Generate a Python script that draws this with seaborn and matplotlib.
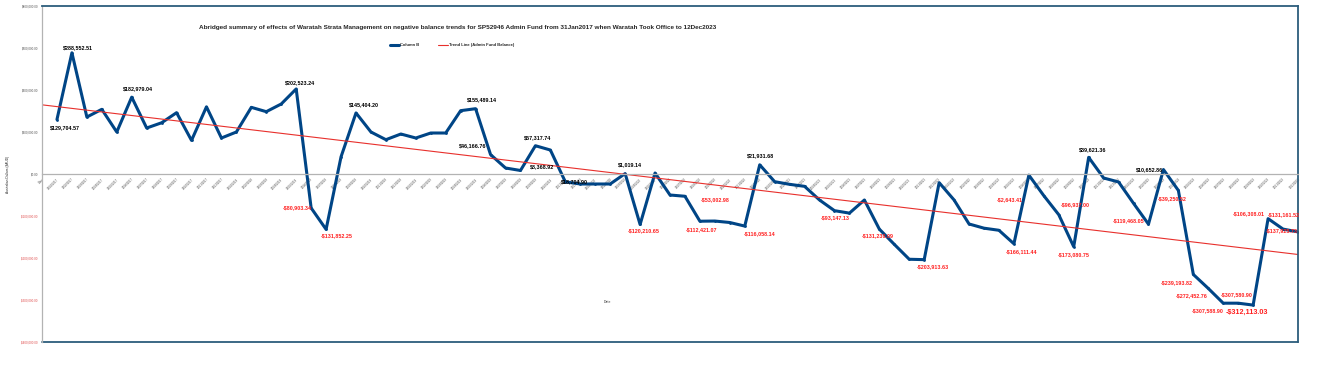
import matplotlib
matplotlib.use("Agg")
import matplotlib.pyplot as plt
import numpy as np
import pandas as pd
import seaborn as sns

# month-end balances of the admin fund, Jan 2017 .. Dec 2023
balance = [
    129704.57, 288552.51, 135700, 154000, 100000, 182979.04, 109500, 122000, 146000, 80000,
    160000, 85700, 100000, 158700, 148400, 166700, 202523.24, -80903.34, -131852.25, 41000,
    145404.20, 100000, 81700, 95200, 85700, 97600, 97600, 150800, 155489.14, 46166.76,
    14300, 8368.92, 67317.74, 57100, -18704.90, -23800, -23800, -23800, 1019.14, -120210.65,
    2400, -50000, -53002.98, -112421.07, -112000, -115500, -124000, 21931.68, -18300, -24600,
    -29400, -61900, -87300, -93147.13, -61900, -131230.09, -167500, -203000, -203913.63, -20600,
    -61900, -119000, -129000, -134000, -166111.44, -2643.41, -51600, -96937.00, -173080.75, 39621.36,
    -9500, -19000, -69800, -119468.05, 10652.86, -39250.52, -239193.82, -272452.76, -307588.90, -307580.90,
    -312113.03, -106308.01, -131161.52, -137925.73,
]

# category labels (first category is the header cell "Date")
dates = ["Date",
    "31/01/2017", "28/02/2017", "31/03/2017", "30/04/2017", "31/05/2017", "30/06/2017",
    "31/07/2017", "31/08/2017", "30/09/2017", "31/10/2017", "30/11/2017", "31/12/2017",
    "31/01/2018", "28/02/2018", "31/03/2018", "30/04/2018", "31/05/2018", "30/06/2018",
    "31/07/2018", "31/08/2018", "30/09/2018", "31/10/2018", "30/11/2018", "31/12/2018",
    "31/01/2019", "28/02/2019", "31/03/2019", "30/04/2019", "31/05/2019", "30/06/2019",
    "31/07/2019", "31/08/2019", "30/09/2019", "31/10/2019", "30/11/2019", "31/12/2019",
    "31/01/2020", "29/02/2020", "31/03/2020", "30/04/2020", "31/05/2020", "30/06/2020",
    "31/07/2020", "31/08/2020", "30/09/2020", "31/10/2020", "30/11/2020", "31/12/2020",
    "31/01/2021", "28/02/2021", "31/03/2021", "30/04/2021", "31/05/2021", "30/06/2021",
    "31/07/2021", "31/08/2021", "30/09/2021", "31/10/2021", "30/11/2021", "31/12/2021",
    "31/01/2022", "28/02/2022", "31/03/2022", "30/04/2022", "31/05/2022", "30/06/2022",
    "31/07/2022", "31/08/2022", "30/09/2022", "31/10/2022", "30/11/2022", "31/12/2022",
    "31/01/2023", "28/02/2023", "31/03/2023", "30/04/2023", "31/05/2023", "30/06/2023",
    "31/07/2023", "31/08/2023", "30/09/2023", "31/10/2023", "30/11/2023", "12/12/2023",
]

y_ticks = [-400000, -300000, -200000, -100000, 0, 100000, 200000, 300000, 400000]
y_tick_labels = ["-$400,000.00", "-$300,000.00", "-$200,000.00", "-$100,000.00", "$0.00",
                 "$100,000.00", "$200,000.00", "$300,000.00", "$400,000.00"]

# data labels: point number (1-based) and text shown
label_pt = [1, 2, 6, 17, 18, 19, 21, 29, 30, 32, 33, 35, 39, 40, 43, 44, 47, 48, 54, 56,
            59, 65, 66, 68, 69, 70, 74, 75, 76, 77, 78, 79, 80, 81, 82, 83, 84]
label_txt = ["$129,704.57", "$288,552.51", "$182,979.04", "$202,523.24", "-$80,903.34",
             "-$131,852.25", "$145,404.20", "$155,489.14", "$46,166.76", "$8,368.92",
             "$67,317.74", "$18,704.90", "$1,019.14", "-$120,210.65", "-$53,002.98",
             "-$112,421.07", "-$116,058.14", "$21,931.68", "-$93,147.13", "-$131,230.09",
             "-$203,913.63", "-$166,111.44", "-$2,643.41", "-$96,937.00", "-$173,080.75",
             "$39,621.36", "-$119,468.05", "$10,652.86", "-$39,250.52", "-$239,193.82",
             "-$272,452.76", "-$307,588.90", "-$307,580.90", "-$312,113.03", "-$106,308.01",
             "-$131,161.52", "-$137,925.73"]
# where each label sits relative to its point, pixels (dx right, dy down)
label_off = [(8, 8), (6, -5), (6, -9), (4, -6), (-14, 0), (11, 6), (8, -8), (6, -9), (-18, -9),
             (22, -4), (2, -8), (9, 0), (5, -9), (4, 6), (30, 3), (2, 8), (15, 8), (1, -9),
             (-14, 5), (-2, 7), (9, 7), (8, 8), (-19, 25), (17, -10), (0, 8), (4, -8),
             (-20, -4), (-14, 0), (-6, 8), (-17, 8), (-17, 7), (-16, 7), (-1, -9), (-6, 7),
             (-19, -5), (1, -14), (-16, -1)]

BLUE = "#004586"
RED = "#e8302c"
FRAME = "#2c5d7c"
GREY = "#b3b3b3"

sns.set_style("white")
plt.rcParams["font.family"] = ["Liberation Sans", "DejaVu Sans"]

df = pd.DataFrame({"pos": np.arange(1, len(balance) + 1), "balance": balance})

fig = plt.figure(figsize=(13.17, 3.8), dpi=100)
ax = fig.add_axes([42 / 1317, 1 - 342 / 380, 1256 / 1317, 336 / 380])
ax.set_xlim(0, len(dates) - 1)
ax.set_ylim(-400000, 400000)

sns.lineplot(data=df, x="pos", y="balance", ax=ax, color=BLUE, lw=2.2,
             marker="o", markersize=2, markeredgewidth=0, label="Column B")
sns.regplot(data=df, x="pos", y="balance", ax=ax, scatter=False, ci=None,
            truncate=False, line_kws=dict(color=RED, lw=0.8),
            label="Trend Line (Admin Fund Balance)")

for p, t, (dx, dy) in zip(label_pt, label_txt, label_off):
    neg = t.startswith("-")
    ax.annotate(t, (p, balance[p - 1]), xytext=(dx, -dy), textcoords="offset pixels",
                ha="center", va="center", fontsize=5.2 if p == 81 else 3.9,
                fontweight="bold", color="#ff2020" if neg else "black")

# axes and frame
ax.spines["bottom"].set_position(("data", 0))
ax.spines["bottom"].set_color(GREY)
ax.spines["left"].set_color(GREY)
for s in ("bottom", "left"):
    ax.spines[s].set_linewidth(0.9)
for s in ("top", "right"):
    ax.spines[s].set_color(FRAME)
    ax.spines[s].set_linewidth(1.3)
ax.plot([0, 1], [0, 0], transform=ax.transAxes, color=FRAME, lw=1.3, clip_on=False)

ax.tick_params(axis="both", length=1.5, width=0.5, color=GREY, pad=1)
ax.tick_params(axis="y", labelsize=2.2)
ax.tick_params(axis="x", labelsize=2.0, labelcolor="#444444")
ax.set_yticks(y_ticks, y_tick_labels)
ax.set_xticks(range(len(dates)), dates)
for lab, v in zip(ax.get_yticklabels(), y_ticks):
    lab.set_color("#e05050" if v < 0 else "#555555")
for lab in ax.get_xticklabels():
    lab.set_rotation(45)
    lab.set_ha("right")
    lab.set_rotation_mode("anchor")

ax.set_xlabel("")
ax.set_ylabel("Australian Dollars ($AUD)", fontsize=2.3, labelpad=8)
ax.text(0.45, 0.115, "Date", transform=ax.transAxes, fontsize=2.5, ha="center", color="#333333")

fig.text(458 / 1317, 1 - 27 / 380,
         "Abridged summary of effects of Waratah Strata Management on negative balance trends "
         "for SP52946 Admin Fund from 31Jan2017 when Waratah Took Office to 12Dec2023",
         fontsize=4.6, fontweight="bold", ha="center", va="center")

ax.legend(loc="center", bbox_to_anchor=(452 / 1317, 1 - 45 / 380), bbox_transform=fig.transFigure,
          ncol=2, frameon=False, handlelength=2.2, handletextpad=0.3,
          columnspacing=4.5, prop=dict(weight="bold", size=3.0))

fig.savefig("out.png", dpi=100)
